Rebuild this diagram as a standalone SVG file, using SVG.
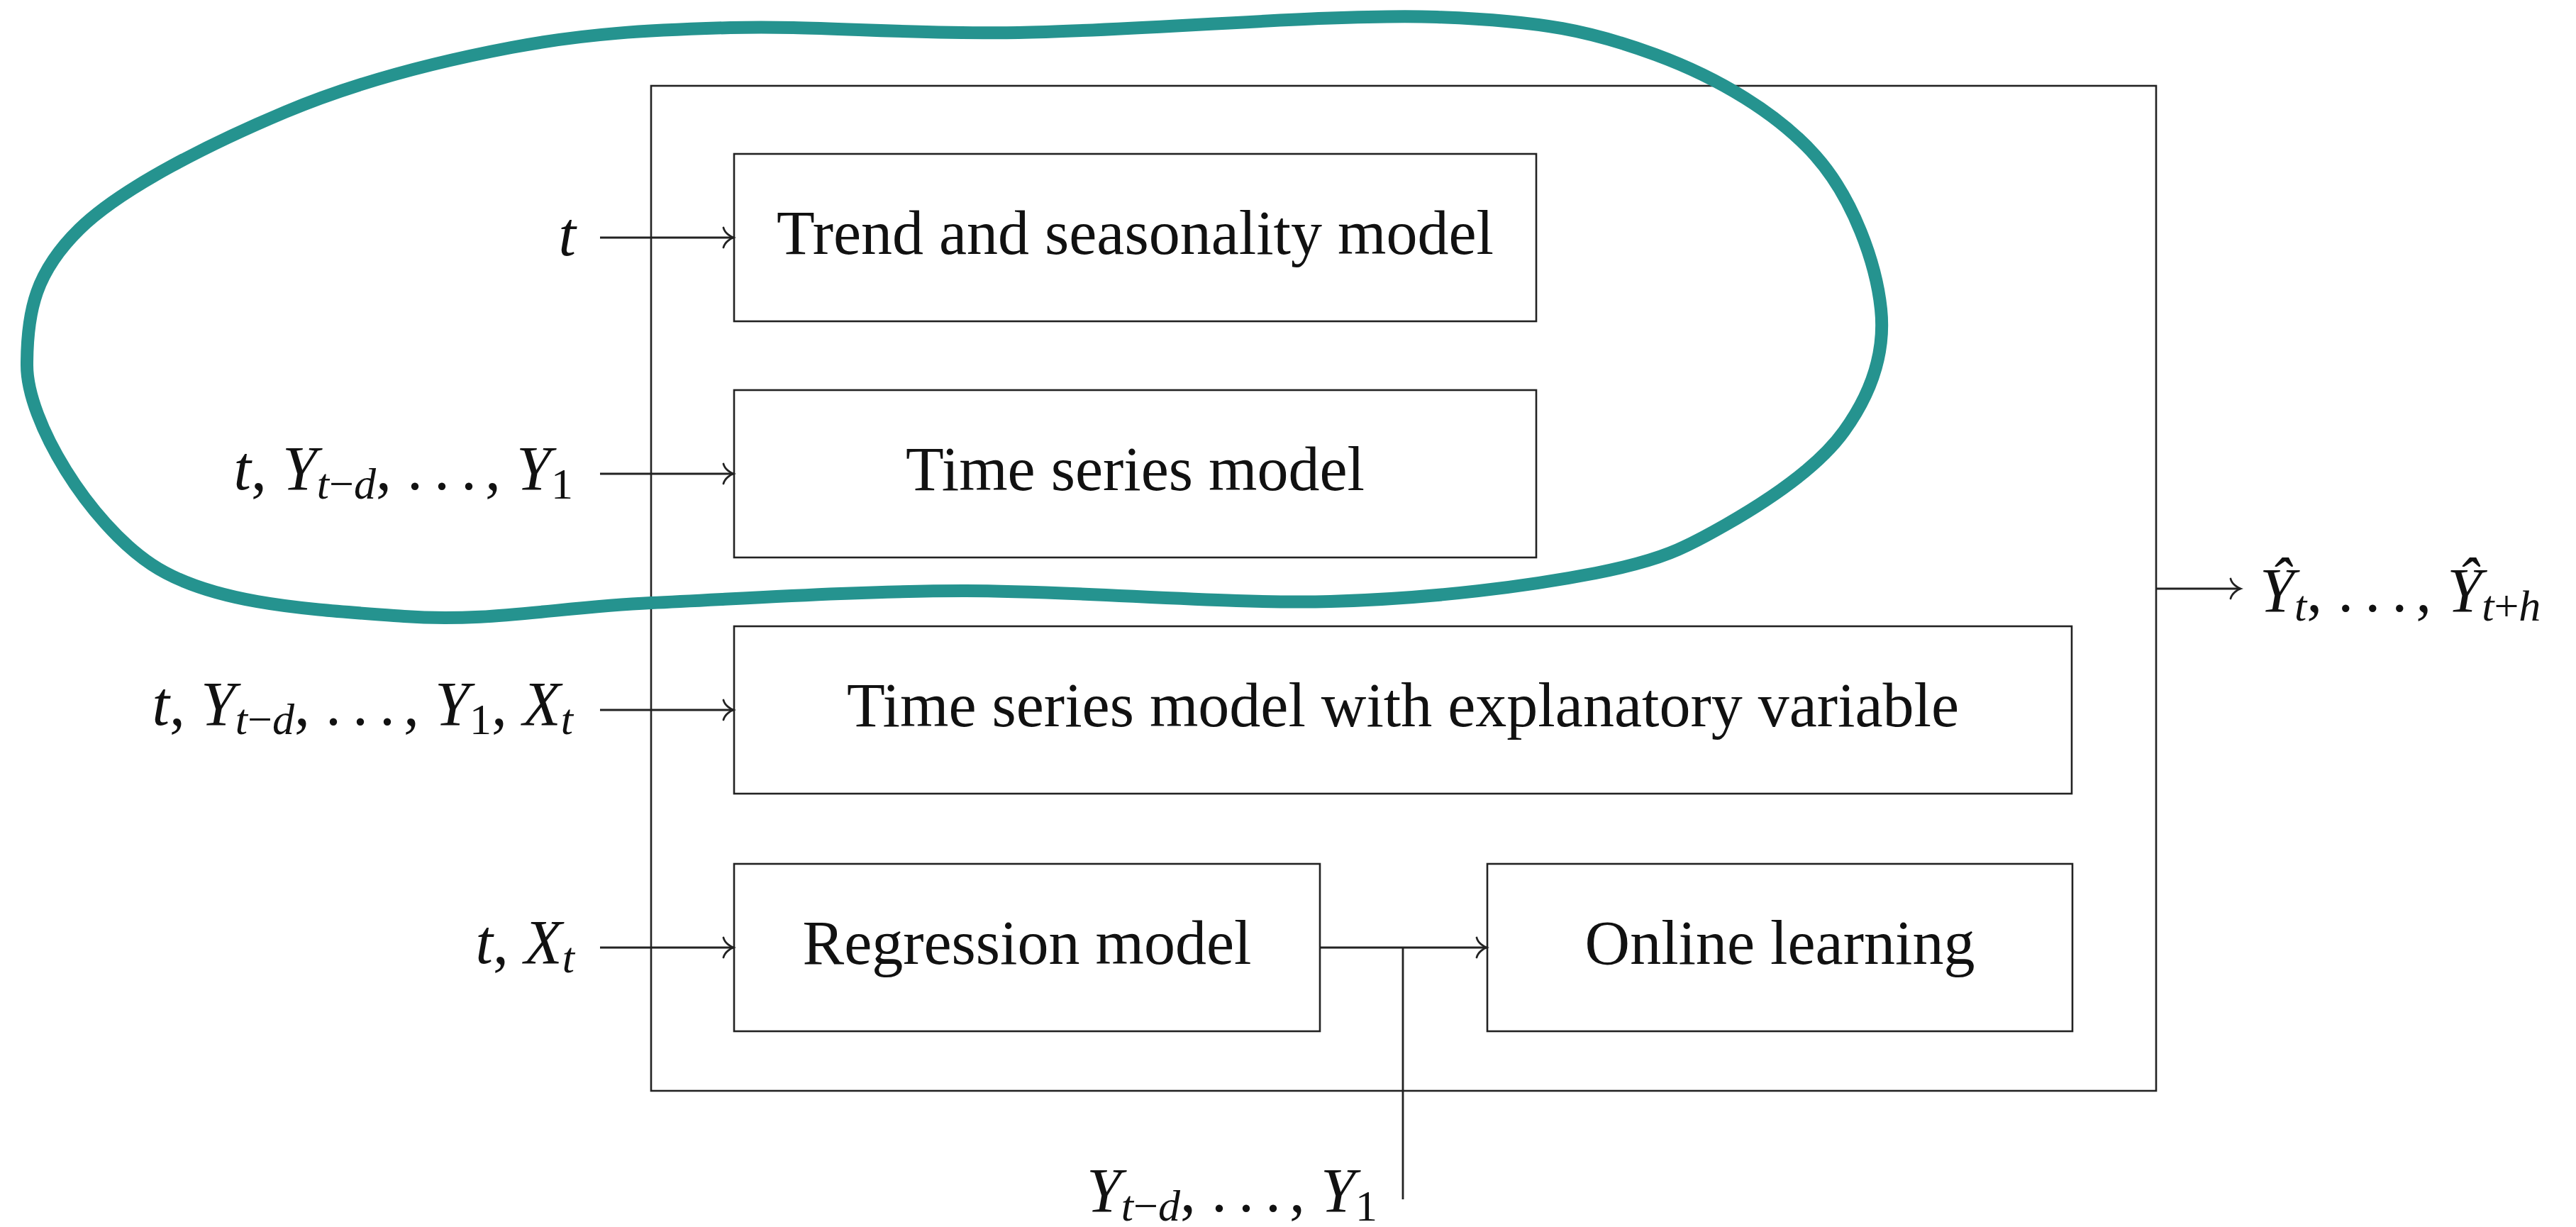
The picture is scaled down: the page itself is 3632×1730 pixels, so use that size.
<svg xmlns="http://www.w3.org/2000/svg" width="3632" height="1730" viewBox="0 0 3632 1730">
<style>
.box{fill:none;stroke:#222;stroke-width:2.6}
.lbl{font-family:"Liberation Serif","DejaVu Serif",serif;font-size:88px;fill:#111}
.it{font-style:italic}
.sub{font-size:62px}
.con{fill:none;stroke:#222;stroke-width:2.8}
.blob{fill:none;stroke:#25938F;stroke-width:18}
</style>
<defs>
<marker id="arr" markerUnits="userSpaceOnUse" viewBox="-20 -20 30 40" markerWidth="30" markerHeight="40" refX="0" refY="0" orient="auto" overflow="visible">
<path d="M-14,-14 C-12,-6 -4,-1.5 0,0 C-4,1.5 -12,6 -14,14" fill="none" stroke="#222" stroke-width="2.8" stroke-linecap="round"/>
</marker>
</defs>
<rect width="3632" height="1730" fill="#fff"/>

<g id="container">
<rect class="box" x="918" y="121" width="2122" height="1417"/>
</g>

<g id="trend">
<rect class="box" x="1035" y="217" width="1131" height="236"/>
<text class="lbl" x="1600.5" y="358" text-anchor="middle">Trend and seasonality model</text>
</g>
<g id="timeseries">
<rect class="box" x="1035" y="550" width="1131" height="236"/>
<text class="lbl" x="1600.5" y="691" text-anchor="middle">Time series model</text>
</g>
<g id="timeseries-x">
<rect class="box" x="1035" y="883" width="1886" height="236"/>
<text class="lbl" x="1978" y="1024" text-anchor="middle">Time series model with explanatory variable</text>
</g>
<g id="regression">
<rect class="box" x="1035" y="1218" width="826" height="236"/>
<text class="lbl" x="1448" y="1359" text-anchor="middle">Regression model</text>
</g>
<g id="online">
<rect class="box" x="2097" y="1218" width="825" height="236"/>
<text class="lbl" x="2509.5" y="1359" text-anchor="middle">Online learning</text>
</g>

<g id="in1"><text class="lbl" x="812" y="360" text-anchor="end"><tspan class="it">t</tspan></text></g>
<g id="in2"><text class="lbl" x="808" y="690" text-anchor="end"><tspan class="it">t</tspan>, <tspan class="it">Y</tspan><tspan class="sub it" dy="13">t</tspan><tspan class="sub">−</tspan><tspan class="sub it">d</tspan><tspan dy="-13">, .</tspan><tspan dx="16">.</tspan><tspan dx="16">.</tspan><tspan dx="12">, </tspan><tspan class="it">Y</tspan><tspan class="sub" dy="13">1</tspan></text></g>
<g id="in3"><text class="lbl" x="808" y="1022" text-anchor="end"><tspan class="it">t</tspan>, <tspan class="it">Y</tspan><tspan class="sub it" dy="13">t</tspan><tspan class="sub">−</tspan><tspan class="sub it">d</tspan><tspan dy="-13">, .</tspan><tspan dx="16">.</tspan><tspan dx="16">.</tspan><tspan dx="12">, </tspan><tspan class="it">Y</tspan><tspan class="sub" dy="13">1</tspan><tspan dy="-13">, </tspan><tspan class="it">X</tspan><tspan class="sub it" dy="13">t</tspan></text></g>
<g id="in4"><text class="lbl" x="810" y="1358" text-anchor="end"><tspan class="it">t</tspan>, <tspan class="it">X</tspan><tspan class="sub it" dy="13">t</tspan></text></g>
<g id="in5"><text class="lbl" x="1942" y="1708" text-anchor="end"><tspan class="it">Y</tspan><tspan class="sub it" dy="13">t</tspan><tspan class="sub">−</tspan><tspan class="sub it">d</tspan><tspan dy="-13">, .</tspan><tspan dx="16">.</tspan><tspan dx="16">.</tspan><tspan dx="12">, </tspan><tspan class="it">Y</tspan><tspan class="sub" dy="13">1</tspan></text></g>
<g id="out"><text class="lbl" x="3186" y="862"><tspan class="it">Ŷ</tspan><tspan class="sub it" dy="13">t</tspan><tspan dy="-13">, .</tspan><tspan dx="16">.</tspan><tspan dx="16">.</tspan><tspan dx="12">, </tspan><tspan class="it">Ŷ</tspan><tspan class="sub it" dy="13">t</tspan><tspan class="sub">+</tspan><tspan class="sub it">h</tspan></text></g>

<g id="connectors">
<line class="con" x1="846" y1="335" x2="1034" y2="335" marker-end="url(#arr)"/>
<line class="con" x1="846" y1="668" x2="1034" y2="668" marker-end="url(#arr)"/>
<line class="con" x1="846" y1="1001" x2="1034" y2="1001" marker-end="url(#arr)"/>
<line class="con" x1="846" y1="1336" x2="1034" y2="1336" marker-end="url(#arr)"/>
<line class="con" x1="1861" y1="1336" x2="2096" y2="1336" marker-end="url(#arr)"/>
<line class="con" x1="1978" y1="1691" x2="1978" y2="1336"/>
<line class="con" x1="3040" y1="830" x2="3159" y2="830" marker-end="url(#arr)"/>
</g>

<g id="highlight">
<path class="blob" d="M1030,39 C1149.2,35.5 1270,48.5 1436,46 C1602,43.5 1876.3,18.8 2026,24 C2175.7,29.2 2245,44.3 2334,77 C2423,109.7 2507,160.2 2560,220 C2613,279.8 2645.3,371.3 2652,436 C2658.7,500.7 2636.5,557.3 2600,608 C2563.5,658.7 2491.3,706.7 2433,740 C2374.7,773.3 2342.8,790 2250,808 C2157.2,826 2024.5,843.8 1876,848 C1727.5,852.2 1518.7,832.7 1359,833 C1199.3,833.3 1049.5,844 918,850 C786.5,856 687.3,878 570,869 C452.7,860 302.7,855 214,796 C125.3,737 38,594 38,515 C38,436 51.3,382.5 112,323 C172.7,263.5 300.5,200.7 402,158 C503.5,115.3 616.3,86.8 721,67 C825.7,47.2 910.8,42.5 1030,39 Z"/>
</g>
</svg>
